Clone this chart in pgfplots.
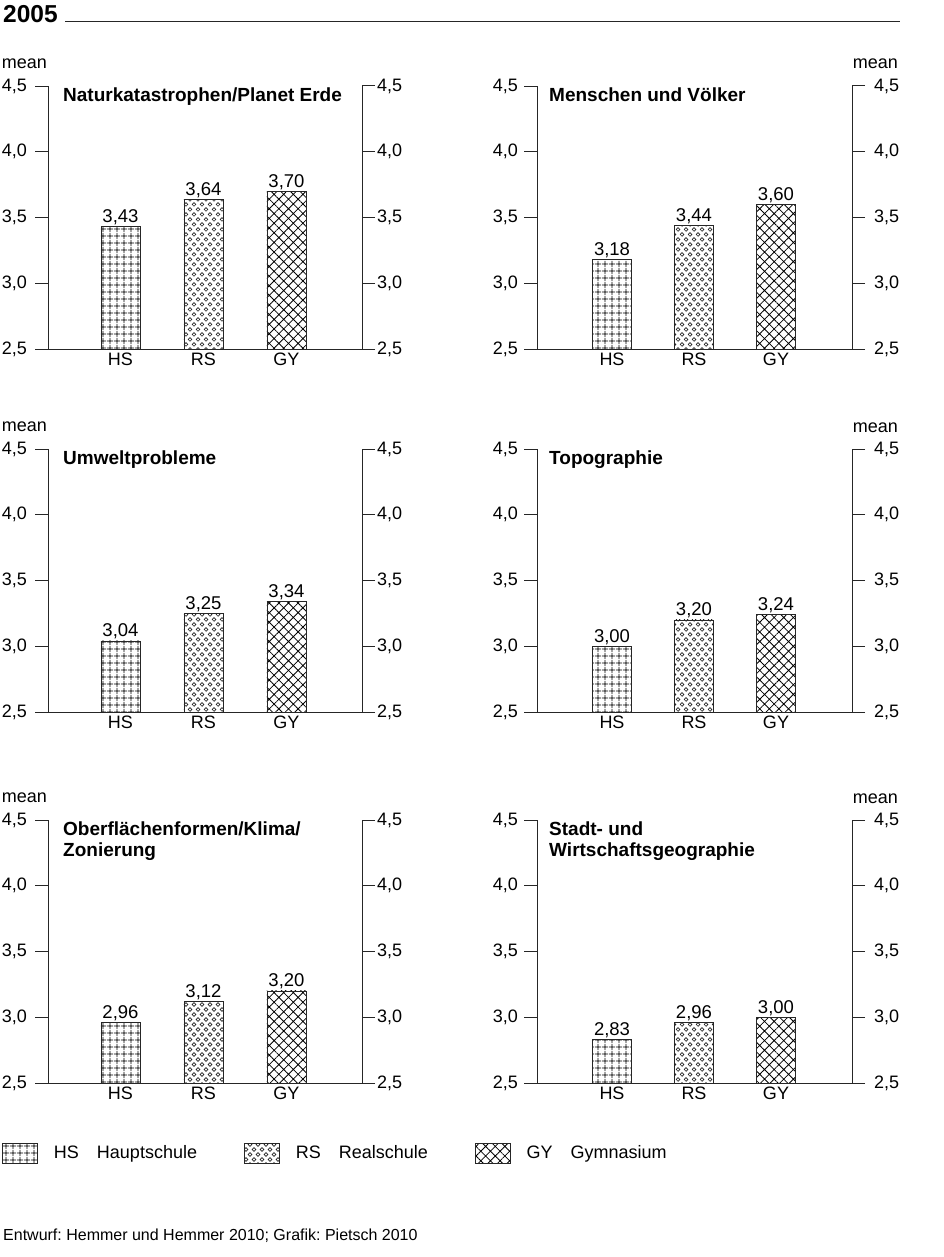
\documentclass[border=0pt]{standalone}
\usepackage{fontspec}
\setmainfont{Liberation Sans}
\usepackage{pgfplots}
\pgfplotsset{compat=1.18}
\usetikzlibrary{patterns,patterns.meta}
\frenchspacing

\pgfdeclarepatternformonly{rscircles}{\pgfqpoint{-1pt}{-1pt}}{\pgfqpoint{9pt}{11pt}}{\pgfqpoint{8pt}{10pt}}{%
  \pgfsetlinewidth{0.65pt}%
  \pgfpathcircle{\pgfqpoint{2pt}{2.5pt}}{1.8pt}%
  \pgfpathcircle{\pgfqpoint{6pt}{7.5pt}}{1.8pt}%
  \pgfusepath{stroke}}

\newcommand{\lbl}{\fontsize{18}{21}\selectfont}
\newcommand{\vlbl}{\fontsize{18.5}{21}\selectfont}
\newcommand{\ttl}{\bfseries\fontsize{19}{21}\selectfont}

\tikzset{
  hspat/.style={pattern={Hatch[angle=0,distance=6.5pt,line width=0.8pt]}, pattern color=black},
  rspat/.style={pattern=rscircles, pattern color=black!85},
  gypat/.style={pattern={Hatch[angle=45,distance=6.8pt,line width=0.8pt]}, pattern color=black},
  ptitle/.style={anchor=north west, inner sep=0pt, font=\ttl, align=left, yshift=-2pt},
}

\pgfplotsset{
  lbox/.style={legend image code/.code={\draw[##1,line width=0.8pt] (0pt,-10pt) rectangle (35pt,10pt);}},
  bar/.style={ybar, bar width=39pt, bar shift=0pt, draw=black!85, line width=0.9pt, lbox},
  panel/.style={
    scale only axis, height=263pt, anchor=south west,
    ymin=2.5, ymax=4.5, ytick={2.5,3,3.5,4,4.5},
    axis x line=bottom, axis y line=left, axis line style={-, line width=1pt, black!85},
    tick align=outside, major tick length=13pt,
    ytick style={line width=1pt, black!85},
    xtick={1,2,3}, xticklabels={HS,RS,GY},
    x tick style={draw=none},
    tick label style={font=\lbl},
    xticklabel style={anchor=north, inner sep=0pt, yshift=9pt},
    yticklabel={\pgfmathprintnumber[fixed,fixed zerofill,precision=1,use comma,assume math mode=true]{\tick}},
    yticklabel style={anchor=east, inner sep=0pt},
    clip mode=individual,
    nodes near coords={\pgfmathprintnumber[fixed,fixed zerofill,precision=2,use comma,assume math mode=true]{\pgfplotspointmeta}},
    every node near coord/.append style={font=\vlbl, anchor=base, yshift=4pt, inner sep=0pt, text=black},
  },
  rpanel/.style={
    scale only axis, height=263pt, anchor=south west,
    ymin=2.5, ymax=4.5, ytick={2.5,3,3.5,4,4.5}, xmin=0, xmax=1, xtick=\empty,
    axis x line=none, axis y line=right, axis line style={-, line width=1pt, black!85},
    tick align=outside, major tick length=13pt,
    ytick style={line width=1pt, black!85},
    tick label style={font=\lbl},
    yticklabel={\pgfmathprintnumber[fixed,fixed zerofill,precision=1,use comma,assume math mode=true]{\tick}},
    yticklabel style={anchor=west, inner sep=0pt},
  },
  lcol/.style={width=314pt, xmin=0.1265, xmax=3.910, yticklabel style={xshift=-8pt}},
  rcol/.style={width=315pt, xmin=0.0854, xmax=3.927, yticklabel style={xshift=-6pt}},
  lcolR/.style={width=314pt, yticklabel style={xshift=2pt}},
  rcolR/.style={width=315pt, yticklabel style={xshift=9pt}},
}

\begin{document}
\begin{tikzpicture}
\path (0pt,0pt) rectangle (943pt,-1257pt);
\node[anchor=base west, inner sep=0pt, font=\bfseries\fontsize{24.5}{28}\selectfont] at (3pt,-23pt) {2005};
\draw[line width=1.3pt, black!85] (65pt,-21.5pt) -- (900pt,-21.5pt);

% ---------- Row 1 left
\begin{axis}[panel, lcol, at={(48pt,-349pt)}]
\addplot[bar, hspat] coordinates {(1,3.43)};
\addplot[bar, rspat] coordinates {(2,3.64)};
\addplot[bar, gypat] coordinates {(3,3.70)};
\node[ptitle, xshift=15pt] at (rel axis cs:0,1) {Naturkatastrophen/Planet Erde};
\node[anchor=base east, inner sep=0pt, font=\lbl, xshift=-1pt, yshift=18pt] at (rel axis cs:0,1) {mean};
\end{axis}
\begin{axis}[rpanel, lcolR, at={(48pt,-349pt)}]\end{axis}

% ---------- Row 1 right
\begin{axis}[panel, rcol, at={(537pt,-349pt)}]
\addplot[bar, hspat] coordinates {(1,3.18)};
\addplot[bar, rspat] coordinates {(2,3.44)};
\addplot[bar, gypat] coordinates {(3,3.60)};
\node[ptitle, xshift=12pt] at (rel axis cs:0,1) {Menschen und Völker};
\node[anchor=base east, inner sep=0pt, font=\lbl, xshift=46pt, yshift=17pt] at (rel axis cs:1,1) {mean};
\end{axis}
\begin{axis}[rpanel, rcolR, at={(537pt,-349pt)}]\end{axis}

% ---------- Row 2 left
\begin{axis}[panel, lcol, at={(48pt,-712pt)}]
\addplot[bar, hspat] coordinates {(1,3.04)};
\addplot[bar, rspat] coordinates {(2,3.25)};
\addplot[bar, gypat] coordinates {(3,3.34)};
\node[ptitle, xshift=15pt] at (rel axis cs:0,1) {Umweltprobleme};
\node[anchor=base east, inner sep=0pt, font=\lbl, xshift=-1pt, yshift=18pt] at (rel axis cs:0,1) {mean};
\end{axis}
\begin{axis}[rpanel, lcolR, at={(48pt,-712pt)}]\end{axis}

% ---------- Row 2 right
\begin{axis}[panel, rcol, at={(537pt,-712pt)}]
\addplot[bar, hspat] coordinates {(1,3.00)};
\addplot[bar, rspat] coordinates {(2,3.20)};
\addplot[bar, gypat] coordinates {(3,3.24)};
\node[ptitle, xshift=12pt] at (rel axis cs:0,1) {Topographie};
\node[anchor=base east, inner sep=0pt, font=\lbl, xshift=46pt, yshift=17pt] at (rel axis cs:1,1) {mean};
\end{axis}
\begin{axis}[rpanel, rcolR, at={(537pt,-712pt)}]\end{axis}

% ---------- Row 3 left
\begin{axis}[panel, lcol, at={(48pt,-1083pt)},
  legend columns=3,
  legend style={at={(rel axis cs:0,0)}, anchor=west, xshift=-46pt, yshift=-70pt,
    draw=none, fill=none, inner sep=0pt, font=\lbl,
    nodes={inner sep=0pt},
    /tikz/every odd column/.append style={column sep=16pt},
    /tikz/every even column/.append style={column sep=47pt}},
  legend cell align=left]
\addplot[bar, hspat] coordinates {(1,2.96)};
\addplot[bar, rspat] coordinates {(2,3.12)};
\addplot[bar, gypat] coordinates {(3,3.20)};
\legend{HS\hspace{18pt}Hauptschule, RS\hspace{18pt}Realschule, GY\hspace{18pt}Gymnasium}
\node[ptitle, xshift=15pt] at (rel axis cs:0,1) {Oberflächenformen/Klima/\\Zonierung};
\node[anchor=base east, inner sep=0pt, font=\lbl, xshift=-1pt, yshift=18pt] at (rel axis cs:0,1) {mean};
\end{axis}
\begin{axis}[rpanel, lcolR, at={(48pt,-1083pt)}]\end{axis}

% ---------- Row 3 right
\begin{axis}[panel, rcol, at={(537pt,-1083pt)}]
\addplot[bar, hspat] coordinates {(1,2.83)};
\addplot[bar, rspat] coordinates {(2,2.96)};
\addplot[bar, gypat] coordinates {(3,3.00)};
\node[ptitle, xshift=12pt] at (rel axis cs:0,1) {Stadt- und\\Wirtschaftsgeographie};
\node[anchor=base east, inner sep=0pt, font=\lbl, xshift=46pt, yshift=17pt] at (rel axis cs:1,1) {mean};
\end{axis}
\begin{axis}[rpanel, rcolR, at={(537pt,-1083pt)}]\end{axis}

\node[anchor=base west, inner sep=0pt, font=\fontsize{16}{19}\selectfont] at (3pt,-1240pt) {Entwurf: Hemmer und Hemmer 2010; Grafik: Pietsch 2010};
\end{tikzpicture}
\end{document}
